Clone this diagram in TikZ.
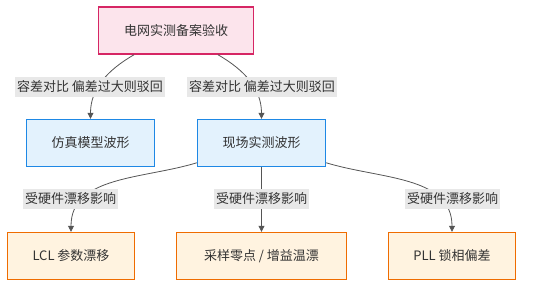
\documentclass[tikz,border=0pt]{standalone}
\usepackage{fontspec}
\usepackage{xcolor}
\usetikzlibrary{arrows.meta,positioning}
\newfontfamily\cjk{Noto Sans CJK SC}
\definecolor{txtgray}{RGB}{51,51,51}
\definecolor{edgegray}{RGB}{85,85,85}
\definecolor{lblgray}{RGB}{232,232,232}
\definecolor{rootline}{RGB}{214,38,100}
\definecolor{rootfill}{RGB}{252,228,236}
\definecolor{waveline}{RGB}{30,136,229}
\definecolor{wavefill}{RGB}{227,242,253}
\definecolor{driftline}{RGB}{239,108,0}
\definecolor{driftfill}{RGB}{255,243,224}
\begin{document}
\begin{tikzpicture}[x=1pt,y=1pt,
        box/.style={draw, line width=1.4pt, minimum height=47pt, text=txtgray, font=\cjk\fontsize{13}{15}\selectfont},
        root/.style={box, draw=rootline, fill=rootfill, minimum width=155pt},
        wave/.style={box, draw=waveline, fill=wavefill, minimum width=128pt},
        drift/.style={box, draw=driftline, fill=driftfill, minimum width=127pt},
        lbl/.style={fill=lblgray, text=txtgray, inner sep=2pt, minimum height=20pt, font=\cjk\fontsize{13}{15}\selectfont},
        link/.style={draw=edgegray, line width=0.8pt, -{Triangle[length=6pt,width=6pt]}}]
        \useasboundingbox (0,0) rectangle (554,287);
        % nodes
        \node[root] (accept) at (176,256.5) {电网实测备案验收};
        \node[wave] (sim) at (90.5,144) {仿真模型波形};
        \node[wave] (field) at (261.5,144) {现场实测波形};
        \node[drift] (lcl) at (71,31) {LCL 参数漂移};
        \node[drift, minimum width=170pt] (samp) at (261.5,31) {采样零点 / 增益温漂};
        \node[drift] (pll) at (452,31) {PLL 锁相偏差};
        % connectors
        \draw[link] (accept) to[out=-150,in=90] (sim);
        \draw[link] (accept) to[out=-30,in=90] (field);
        \draw[link] (field) to[out=-163,in=90] (lcl);
        \draw[link] (field) -- (samp);
        \draw[link] (field) to[out=-17,in=90] (pll);
        % labels
        \node[lbl] (tolA) at (90,200) {容差对比 偏差过大则驳回};
        \node[lbl] (tolB) at (262,200) {容差对比 偏差过大则驳回};
        \node[lbl] (hwA) at (70.5,88) {受硬件漂移影响};
        \node[lbl] (hwB) at (261.5,88) {受硬件漂移影响};
        \node[lbl] (hwC) at (452.5,88) {受硬件漂移影响};
      \end{tikzpicture}
\end{document}
